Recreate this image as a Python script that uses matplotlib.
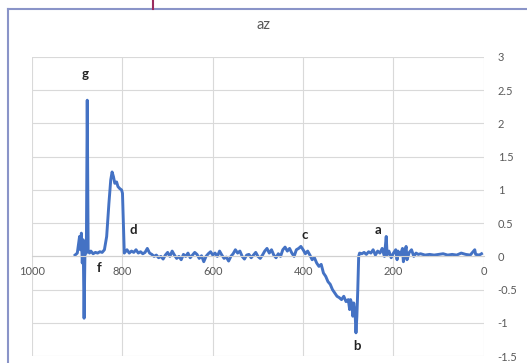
import matplotlib
matplotlib.use('Agg')
import matplotlib.pyplot as plt
from matplotlib.lines import Line2D

plt.rcParams['font.family'] = ['Lato', 'DejaVu Sans']

# distance (reversed axis) and az values
dist = [905, 900, 897, 895, 893, 891, 889, 887, 885, 883, 880, 878, 876, 873, 870,
        865, 860, 855, 850, 845, 840, 835, 830, 826, 823, 820, 817, 813, 810, 806,
        802, 800, 798, 796, 790, 785, 780, 775, 770, 765, 760, 755, 750, 745, 740,
        735, 730, 725, 720, 715, 710, 705, 700, 695, 690, 685, 680, 675, 670, 665,
        660, 655, 650, 645, 640, 635, 630, 625, 620, 615, 610, 605, 600, 595, 590,
        585, 580, 575, 570, 565, 560, 555, 550, 545, 540, 535, 530, 525, 520, 515,
        510, 505, 500, 495, 490, 485, 480, 475, 470, 465, 460, 455, 450, 445, 440,
        435, 430, 425, 420, 415, 410, 405, 400, 395, 390, 385, 380, 375, 370, 365,
        360, 355, 350, 345, 340, 335, 330, 325, 320, 315, 310, 305, 300, 297, 295,
        292, 290, 288, 285, 283, 281, 279, 277, 275, 270, 265, 260, 255, 250, 245,
        240, 235, 230, 225, 220, 218, 216, 214, 210, 205, 200, 195, 192, 190, 185,
        180, 178, 175, 172, 170, 165, 160, 155, 150, 145, 140, 130, 120, 110, 100,
        90, 80, 70, 60, 50, 40, 30, 20, 18, 10, 5]
az = [0.02, 0.05, 0.2, 0.3, 0.1, 0.35, -0.1, 0.25, -0.93, 0.1, 0.05, 2.35, 0.1, 0.05, 0.08,
      0.04, 0.06, 0.05, 0.07, 0.06, 0.1, 0.3, 0.8, 1.15, 1.27, 1.2, 1.1, 1.12, 1.05, 1.02,
      1.0, 0.95, 0.5, 0.05, 0.1, 0.05, 0.08, 0.06, 0.1, 0.05, 0.07, 0.04, 0.06, 0.12, 0.05,
      0.03, 0.0, 0.02, -0.02, 0.0, -0.04, 0.02, 0.06, 0.0, 0.08, 0.02, -0.03, 0.0, -0.05, 0.03,
      0.0, 0.05, -0.02, 0.02, 0.06, 0.03, -0.03, 0.01, -0.08, 0.0, 0.04, 0.07, 0.02, 0.05, 0.0,
      0.08, 0.02, -0.03, -0.01, -0.07, 0.0, 0.04, 0.1, 0.05, 0.08, 0.0, -0.04, 0.02, 0.03, -0.02,
      0.02, 0.06, 0.0, -0.03, 0.02, 0.08, 0.12, 0.05, 0.1, 0.02, -0.02, 0.04, 0.0, 0.1, 0.14,
      0.08, 0.12, 0.05, 0.0, 0.1, 0.12, 0.15, 0.1, 0.04, 0.08, 0.02, -0.05, -0.02, -0.1, -0.15,
      -0.12, -0.25, -0.3, -0.38, -0.42, -0.5, -0.55, -0.6, -0.62, -0.65, -0.6, -0.68, -0.65, -0.8, -0.65,
      -0.72, -0.9, -0.7, -0.85, -1.15, -0.9, -0.5, 0.0, 0.05, 0.04, 0.06, 0.03, 0.07, 0.05, 0.1,
      0.02, 0.08, 0.05, 0.12, 0.0, 0.15, 0.3, 0.02, 0.08, -0.02, 0.05, 0.1, -0.05, 0.08, 0.02,
      0.12, -0.08, 0.05, 0.15, -0.05, 0.06, 0.1, 0.0, 0.05, 0.03, 0.04, 0.02, 0.03, 0.02, 0.03,
      0.04, 0.02, 0.03, 0.02, 0.05, 0.03, 0.02, 0.1, 0.03, 0.02, 0.04]

xticks = [1000, 800, 600, 400, 200, 0]
yticks = [-1.5, -1, -0.5, 0, 0.5, 1, 1.5, 2, 2.5, 3]
ytick_labels = ['-1.5', '-1', '-0.5', '0', '0.5', '1', '1.5', '2', '2.5', '3']

# point labels
marks = ['g', 'f', 'd', 'c', 'a', 'b']
mark_x = [883, 852, 776, 396, 234, 281]
mark_y = [2.75, -0.17, 0.4, 0.32, 0.4, -1.35]

fig = plt.figure(figsize=(5.27, 3.63), dpi=100)
ax = fig.add_axes([0.061, 0.019, 0.857, 0.824])

ax.plot(dist, az, color='#4472C4', lw=2.1, solid_joinstyle='round')

ax.set_xlim(1000, 0)
ax.set_ylim(-1.5, 3)
ax.set_xticks(xticks)
ax.set_yticks(yticks)
ax.set_yticklabels(ytick_labels)
ax.yaxis.tick_right()
ax.grid(True, color='#d9d9d9', lw=0.8)
ax.set_axisbelow(True)

for s in ['top', 'left', 'right']:
    ax.spines[s].set_visible(False)
ax.spines['bottom'].set_position(('data', 0))
ax.spines['bottom'].set_color('#d0d0d0')
ax.spines['bottom'].set_linewidth(0.8)
ax.tick_params(axis='both', length=0, labelsize=8, labelcolor='#595959')
ax.tick_params(axis='x', pad=7)
ax.tick_params(axis='y', pad=10)

for m, mx, my in zip(marks, mark_x, mark_y):
    ax.text(mx, my, m, fontsize=9.5, fontweight='bold', color='#222222',
            ha='center', va='center')

fig.text(0.5, 0.93, 'az', ha='center', va='center', fontsize=10.5, color='#595959')

# outer chart frame and the stray line at the top
fig.add_artist(Line2D([0.015, 0.015], [0, 0.975], color='#8a94c8', lw=1.5))
fig.add_artist(Line2D([0.015, 1], [0.975, 0.975], color='#8a94c8', lw=1.5))
fig.add_artist(Line2D([0.29, 0.29], [0.975, 1], color='#9b2d5f', lw=1.5))

fig.savefig('out.png', dpi=100)
